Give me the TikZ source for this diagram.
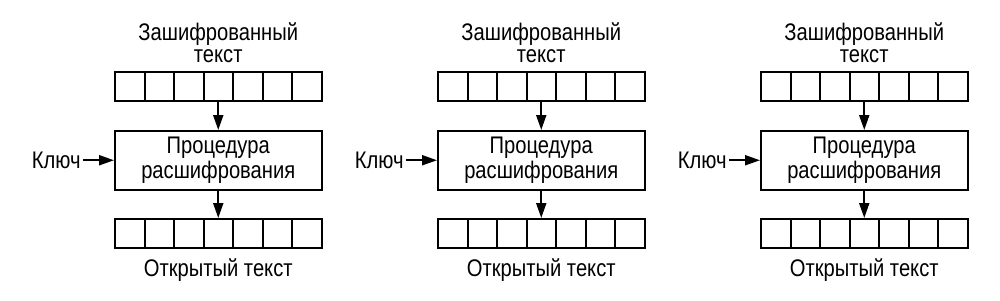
\documentclass[tikz,border=0pt]{standalone}
\usepackage{fontspec}
\setmainfont[FakeStretch=0.84]{Liberation Sans}
\usetikzlibrary{arrows.meta,positioning}
\begin{document}
\begin{tikzpicture}[x=0.5pt,y=-0.5pt,
    cell/.style={draw,line width=1pt,minimum width=14.75pt,minimum height=14.5pt,inner sep=0pt,anchor=north west},
    proc/.style={draw,line width=1pt,minimum width=103.25pt,minimum height=29.25pt,inner sep=0pt,anchor=north west,
        align=center,font=\fontsize{12pt}{11pt}\selectfont},
    lbl/.style={inner sep=0pt,align=center,font=\fontsize{12pt}{10.8pt}\selectfont},
    arr/.style={line width=1pt,-{Triangle[length=7.5pt,width=5pt]}}]
    \useasboundingbox (0,0) rectangle (1000,300);
    \foreach \p/\x in {1/114,2/437,3/760}{
        \foreach \i in {0,...,6}{
            \node[cell] (top\p-\i) at (\x+\i*29.5,71) {};
            \node[cell] (bot\p-\i) at (\x+\i*29.5,218) {};
        }
        \node[proc] (proc\p) at (\x,130) {Процедура\\расшифрования};
        \node[lbl,above=4pt of top\p-3.north] (cipher\p) {Зашифрованный\\текст};
        \node[lbl,below=4.8pt of bot\p-3.south] (plain\p) {Открытый текст};
        \node[lbl,inner sep=1pt,left=15.5pt of proc\p.west] (key\p) {Ключ};
        \draw[arr] (top\p-3.south) -- (proc\p.north);
        \draw[arr] (proc\p.south) -- (bot\p-3.north);
        \draw[arr] (key\p.east) -- (proc\p.west);
    }
\end{tikzpicture}
\end{document}
